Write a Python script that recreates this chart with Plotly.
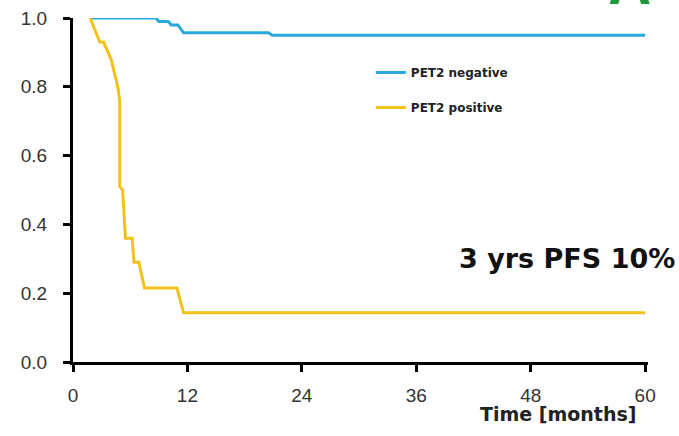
import plotly.graph_objects as go

# Data
neg_months = [1.9, 8.7, 9.0, 10.0, 10.3, 11.0, 11.6, 20.5, 20.9, 60.0]
neg_surv   = [1.00, 1.00, 0.99, 0.99, 0.98, 0.98, 0.957, 0.957, 0.95, 0.95]

pos_months = [1.8, 2.8, 3.2, 4.0, 4.7, 4.9, 4.9, 5.2, 5.5, 6.2, 6.4, 6.9, 7.5, 10.9, 11.6, 60.0]
pos_surv   = [1.00, 0.93, 0.93, 0.88, 0.80, 0.76, 0.51, 0.50, 0.36, 0.36, 0.29, 0.29, 0.215, 0.215, 0.143, 0.143]

x_ticks = [0, 12, 24, 36, 48, 60]
y_ticks = [0.0, 0.2, 0.4, 0.6, 0.8, 1.0]
y_tick_labels = ["0.0", "0.2", "0.4", "0.6", "0.8", "1.0"]

BLUE = "#2aa8dc"
YELLOW = "#f2c21b"

fig = go.Figure()
fig.add_trace(go.Scatter(x=neg_months, y=neg_surv, mode="lines", name="<b>PET2 negative</b>",
                         line=dict(color=BLUE, width=3), legendgroup="a", cliponaxis=False))
fig.add_trace(go.Scatter(x=pos_months, y=pos_surv, mode="lines", name="<b>PET2 positive</b>",
                         line=dict(color=YELLOW, width=3), legendgroup="b", cliponaxis=False))

tickfont = dict(family="Liberation Sans, Arial, sans-serif", size=19, color="#333333")

fig.update_layout(
    width=679, height=436,
    margin=dict(l=73, r=31, t=18, b=74, autoexpand=False),
    paper_bgcolor="white", plot_bgcolor="white",
    showlegend=True,
    legend=dict(x=0.518, y=0.884, xanchor="left", yanchor="top",
                font=dict(family="DejaVu Sans, sans-serif", size=12, color="#222222"),
                itemwidth=30, tracegroupgap=16, bgcolor="rgba(0,0,0,0)"),
    xaxis=dict(range=[0, 60.3], tickvals=x_ticks, showline=True, linecolor="black", linewidth=3,
               ticks="outside", ticklen=7, tickwidth=3, tickcolor="black", automargin=False,
               showgrid=False, zeroline=False, tickfont=tickfont, ticklabelstandoff=7),
    yaxis=dict(range=[0, 1], tickvals=y_ticks, ticktext=y_tick_labels, showline=True,
               linecolor="black", linewidth=3, ticks="outside", ticklen=7, tickwidth=3,
               tickcolor="black", showgrid=False, zeroline=False, tickfont=tickfont,
               ticklabelstandoff=12, automargin=False),
    annotations=[
        dict(text="<b>Time [months]</b>", xref="paper", yref="paper", x=1, y=0,
             xanchor="right", yanchor="middle", xshift=-10, yshift=-52, showarrow=False,
             font=dict(family="DejaVu Sans, sans-serif", size=19, color="#222222")),
        dict(text="<b>3 yrs PFS 10%</b>", xref="paper", yref="paper", x=1.05, y=0.302,
             xanchor="right", yanchor="middle", showarrow=False,
             font=dict(family="DejaVu Sans, sans-serif", size=27, color="#111111")),
        dict(text="<b>A</b>", xref="paper", yref="paper", x=0.967, y=1.0,
             xanchor="center", yanchor="bottom", yshift=-1, showarrow=False,
             font=dict(family="Liberation Sans, Arial, sans-serif", size=60, color="#1f9a3b")),
    ],
)

fig.write_html("out.html", config={"displayModeBar": False},
               post_script="document.body.style.margin='0';")
